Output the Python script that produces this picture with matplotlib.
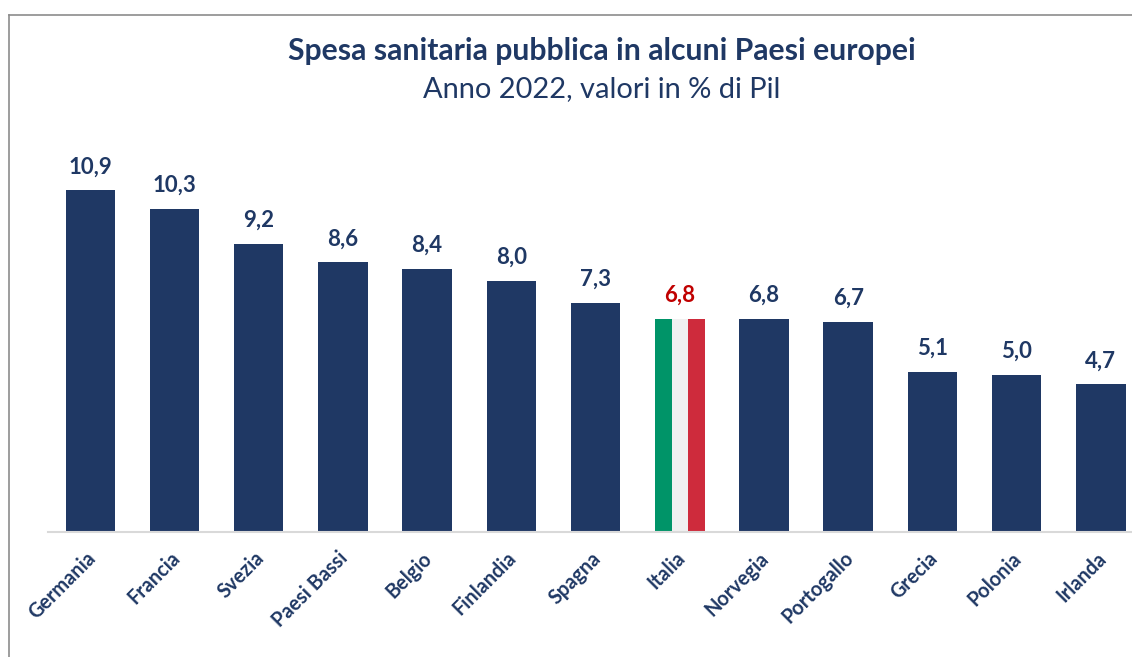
import matplotlib
matplotlib.use("Agg")
import matplotlib.pyplot as plt
from matplotlib.lines import Line2D
from matplotlib.transforms import ScaledTranslation

plt.rcParams['font.family'] = ['Lato', 'DejaVu Sans']

# Data
countries = ["Germania", "Francia", "Svezia", "Paesi Bassi", "Belgio", "Finlandia", "Spagna",
             "Italia", "Norvegia", "Portogallo", "Grecia", "Polonia", "Irlanda"]
values = [10.9, 10.3, 9.2, 8.6, 8.4, 8.0, 7.3, 6.8, 6.8, 6.7, 5.1, 5.0, 4.7]
highlight = "Italia"

NAVY = "#1F3864"
RED = "#C00000"
FLAG = ["#009468", "#F0F0F0", "#CE2B3C"]
BAR_W = 0.588

W, H = 1132, 657
fig = plt.figure(figsize=(W / 100, H / 100), dpi=100)

# Axes placed in pixel terms: baseline at y=531, bars up to about y=190
ax = fig.add_axes([48 / W, 1 - 531.5 / H, (W - 48) / W, (531.5 - 100) / H])
ax.set_xlim(-0.502, 12.37)
ax.set_ylim(0, (531.5 - 100) / 31.3)

for i, (name, val) in enumerate(zip(countries, values)):
    if name == highlight:
        # Italian flag bar, three equal vertical stripes
        for j, col in enumerate(FLAG):
            ax.bar(i + (j - 1) * BAR_W / 3, val, width=BAR_W / 3, color=col, linewidth=0)
        label_col = RED
    else:
        ax.bar(i, val, width=BAR_W, color=NAVY, linewidth=0)
        label_col = NAVY
    ax.annotate(f"{val:.1f}".replace(".", ","), (i, val), xytext=(0, 17), textcoords="offset points",
                ha="center", va="center", fontsize=16, fontweight="bold", color=label_col)

# Axis formatting
ax.set_yticks([])
for side in ["top", "left", "right"]:
    ax.spines[side].set_visible(False)
ax.spines["bottom"].set_color("#D9D9D9")
ax.spines["bottom"].set_linewidth(1.5)
ax.patch.set_alpha(0)
ax.set_xticks(range(len(countries)))
ax.set_xticklabels(countries, rotation=45, ha="right", rotation_mode="anchor",
                   fontsize=14.3, fontweight="bold", color=NAVY)
ax.tick_params(axis="x", length=0, pad=12)

# Nudges the tick labels left so their ends sit like the reference
for lab in ax.get_xticklabels():
    lab.set_transform(lab.get_transform() + ScaledTranslation(-5 / 100, 0, fig.dpi_scale_trans))

# Chart frame, cut off by the image on the right and at the bottom
fig.add_artist(Line2D([9 / W, 9 / W], [0, 1 - 14.5 / H], color="#8C8C8C", linewidth=1.2))
fig.add_artist(Line2D([9 / W, 1], [1 - 14.5 / H, 1 - 14.5 / H], color="#8C8C8C", linewidth=1.2))

# Titles
fig.text(602 / W, 1 - 51 / H, "Spesa sanitaria pubblica in alcuni Paesi europei",
         ha="center", va="center", fontsize=21.7, fontweight="bold", color=NAVY)
fig.text(602 / W, 1 - 89 / H, "Anno 2022, valori in % di Pil",
         ha="center", va="center", fontsize=20.9, color=NAVY)

fig.savefig("out.png", dpi=100)
